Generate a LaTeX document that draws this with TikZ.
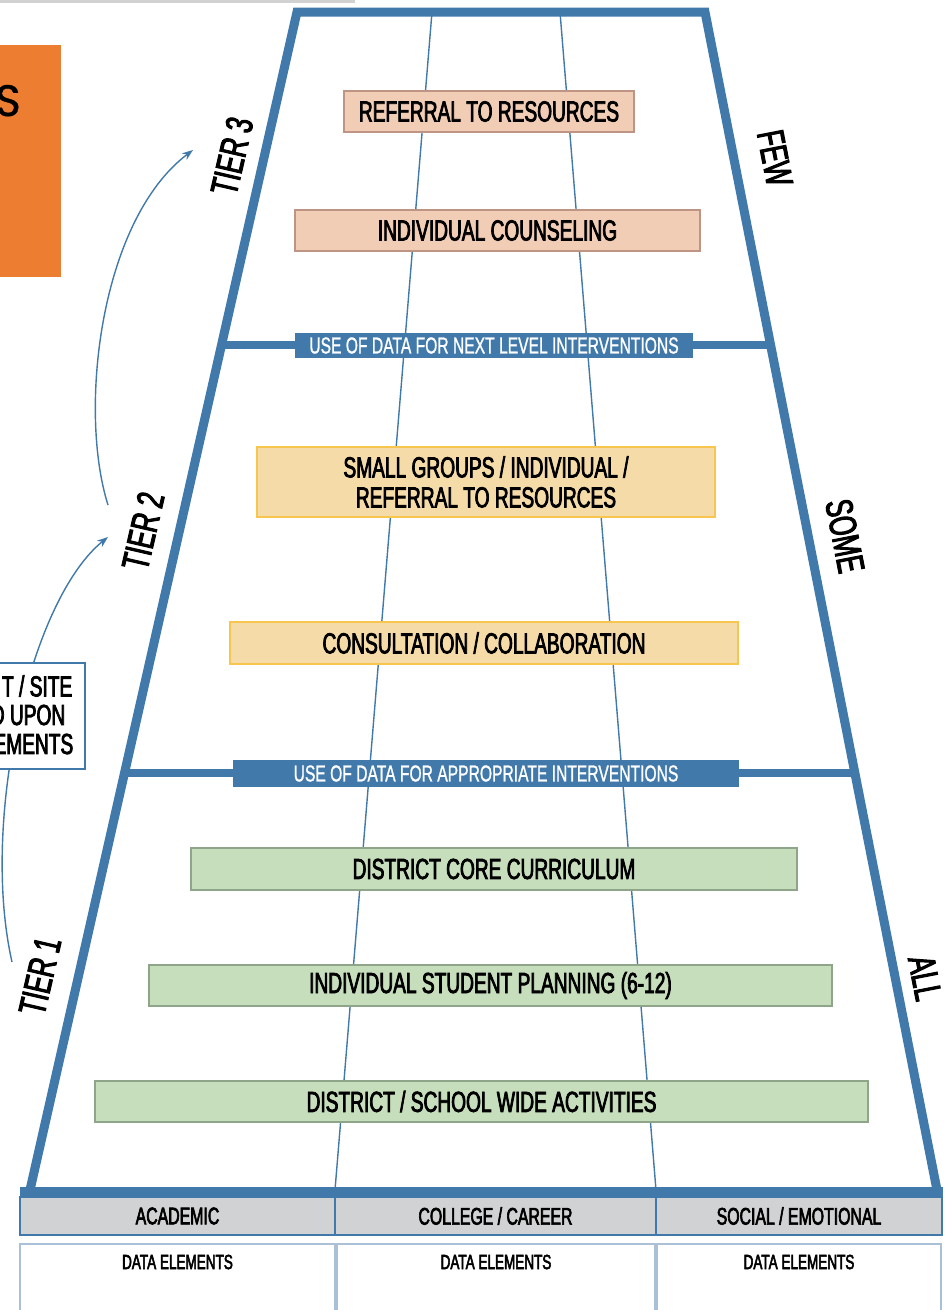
\documentclass[tikz,border=0pt]{standalone}
\usepackage{fontspec}
\setmainfont{Liberation Sans}[FakeStretch=0.68]
\newfontfamily\heavyfont{Liberation Sans}[FakeStretch=0.66, FakeBold=2.6]
\newfontfamily\midfont{Liberation Sans}[FakeStretch=0.68, FakeBold=1]
\newfontfamily\popfont{Poppins}[FakeBold=0.8]
\usetikzlibrary{arrows.meta,calc}
\definecolor{tblue}{HTML}{4179AB}
\definecolor{salfill}{HTML}{F2CDB6}
\definecolor{saldraw}{HTML}{BE9585}
\definecolor{yelfill}{HTML}{F5DBA8}
\definecolor{yeldraw}{HTML}{F8C54E}
\definecolor{grnfill}{HTML}{C7DEBD}
\definecolor{grndraw}{HTML}{8FA58A}
\definecolor{hdrgray}{HTML}{D1D2D4}
\definecolor{orng}{HTML}{ED7D31}
\definecolor{cellline}{HTML}{A9C0D6}
\tikzset{
  boxtext/.style={font=\heavyfont\fontsize{29}{30}\selectfont, inner sep=0pt, align=center, line width=1.5pt},
  salbox/.style={boxtext, draw=saldraw, fill=salfill},
  yelbox/.style={boxtext, draw=yeldraw, fill=yelfill},
  grnbox/.style={boxtext, draw=grndraw, fill=grnfill},
  datalabel/.style={fill=tblue, text=white, inner sep=0pt, font=\midfont\fontsize{23}{25}\selectfont},
  tierlabel/.style={font=\heavyfont\fontsize{38}{40}\selectfont, inner sep=0pt},
  hdrcell/.style={draw=tblue, fill=hdrgray, line width=1.2pt, inner sep=0pt, font=\heavyfont\fontsize{24}{26}\selectfont},
  datacell/.style={draw=cellline, fill=white, line width=1.2pt},
  celltext/.style={font=\heavyfont\fontsize{20.5}{22}\selectfont, inner sep=0pt},
  frame/.style={draw=tblue, line width=9pt, line join=miter},
  divider/.style={draw=tblue, line width=8pt},
  inner/.style={draw=tblue, line width=1.4pt},
  tierarrow/.style={draw=tblue, line width=1.4pt, -{Stealth[length=11pt,width=8pt]}},
}
\begin{document}
\begin{tikzpicture}[x=1pt,y=-1pt]
\useasboundingbox (0,0) rectangle (948,1310);
\clip (0,0) rectangle (948,1310);
\fill[white] (0,0) rectangle (948,1310);
% top grey rule
\draw[line width=3pt, draw=black!18] (0,1.5) -- (355,1.5);

% orange box
\fill[orng] (-5,45) rectangle (61,277);
\node[anchor=base east, inner sep=0pt, font=\popfont\fontsize{44}{44}\selectfont] (orS) at (21,116) {S};

% frame coordinates
\coordinate (TL) at (297,12);
\coordinate (TR) at (705,12);
\coordinate (BL) at (30,1190);
\coordinate (BR) at (937,1190);
\coordinate (IL1) at (432,12);
\coordinate (IL2) at (335,1190);
\coordinate (IR1) at (560,12);
\coordinate (IR2) at (656,1190);

% inner thin lines
\draw[inner] (IL1) -- (IL2);
\draw[inner] (IR1) -- (IR2);

% dividers
\coordinate (d1l) at ($(TL)!0.2831!(BL)$);
\coordinate (d1r) at ($(TR)!0.2831!(BR)$);
\coordinate (d2l) at ($(TL)!0.6464!(BL)$);
\coordinate (d2r) at ($(TR)!0.6464!(BR)$);
\draw[divider] (d1l) -- (d1r);
\draw[divider] (d2l) -- (d2r);

% frame
\draw[frame] (BL) -- (TL) -- (TR) -- (BR);
\coordinate (bandL) at (20,1192);
\coordinate (bandR) at (943,1192);
\draw[draw=tblue, line width=10pt] (bandL) -- (bandR);

% data labels on dividers
\node[datalabel, minimum width=398pt, minimum height=25pt] (use1) at (494,345.5) {USE OF DATA FOR NEXT LEVEL INTERVENTIONS};
\node[datalabel, minimum width=506pt, minimum height=27pt] (use2) at (486,773.5) {USE OF DATA FOR APPROPRIATE INTERVENTIONS};

% tier 3 boxes
\node[salbox, minimum width=290pt, minimum height=41pt] (r1) at (489,111.5) {REFERRAL TO RESOURCES};
\node[salbox, minimum width=405pt, minimum height=41pt] (r2) at (497.5,230.5) {INDIVIDUAL COUNSELING};
% tier 2 boxes
\node[yelbox, minimum width=458pt, minimum height=70pt] (y1) at (486,482) {SMALL GROUPS / INDIVIDUAL /\\REFERRAL TO RESOURCES};
\node[yelbox, minimum width=508pt, minimum height=42pt] (y2) at (484,643) {CONSULTATION / COLLABORATION};
% tier 1 boxes
\node[grnbox, minimum width=606pt, minimum height=42pt] (g1) at (494,869) {DISTRICT CORE CURRICULUM};
\node[grnbox, minimum width=683pt, minimum height=41pt] (g2) at (490.5,985.5) {INDIVIDUAL STUDENT PLANNING (6-12)};
\node[grnbox, minimum width=773pt, minimum height=41pt] (g3) at (481.5,1101.5) {DISTRICT / SCHOOL WIDE ACTIVITIES};

% tier labels
\node[tierlabel, rotate=77] (t3) at (232,156) {TIER 3};
\node[tierlabel, rotate=77] (t2) at (143,531) {TIER 2};
\node[tierlabel, rotate=77] (t1) at (40,976) {TIER 1};
\node[tierlabel, rotate=-79] (few) at (775,158) {FEW};
\node[tierlabel, rotate=-79] (some) at (845,536) {SOME};
\node[tierlabel, rotate=-79] (all) at (925,978) {ALL};

% arrows
\coordinate (a1s) at (12,962);
\coordinate (a1e) at (108,537);
\coordinate (a2s) at (108,505);
\coordinate (a2e) at (193,150);
\draw[tierarrow] (a1s) .. controls (-20,820) and (30,600) .. (a1e);
\draw[tierarrow] (a2s) .. controls (78,410) and (100,220) .. (a2e);

% left partial box
\node[draw=tblue, fill=white, line width=1.5pt, minimum width=95pt, minimum height=106pt, inner sep=0pt] (lbox) at (37.5,716) {};
\node[anchor=east, boxtext] (lb1) at (73,686) {T / SITE};
\node[anchor=east, boxtext] (lb2) at (66,715) {D UPON};
\node[anchor=east, boxtext] (lb3) at (74,744) {EMENTS};

% table header
\node[hdrcell, minimum width=315pt, minimum height=38pt] (h1) at (177.5,1216) {ACADEMIC};
\node[hdrcell, minimum width=321pt, minimum height=38pt] (h2) at (495.5,1216) {COLLEGE / CAREER};
\node[hdrcell, minimum width=286pt, minimum height=38pt] (h3) at (799,1216) {SOCIAL / EMOTIONAL};

% data cells
\node[datacell, minimum width=315pt, minimum height=80pt, inner sep=0pt] (c1) at (177.5,1284) {};
\node[datacell, minimum width=318pt, minimum height=80pt, inner sep=0pt] (c2) at (496,1284) {};
\node[datacell, minimum width=284pt, minimum height=80pt, inner sep=0pt] (c3) at (799,1284) {};
\node[celltext] (e1) at (177.5,1262) {DATA ELEMENTS};
\node[celltext] (e2) at (496,1262) {DATA ELEMENTS};
\node[celltext] (e3) at (799,1262) {DATA ELEMENTS};
\end{tikzpicture}
\end{document}
